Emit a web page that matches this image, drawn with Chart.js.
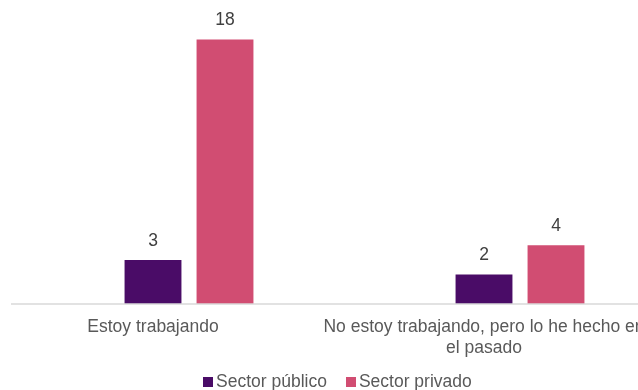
<!DOCTYPE html>
<html>
<head>
<meta charset="utf-8">
<script src="https://cdn.jsdelivr.net/npm/chart.js@4.4.0/dist/chart.umd.min.js"></script>
<style>
    html, body { margin: 0; padding: 0; background: #fff; overflow: hidden; }
    #wrap { position: relative; width: 638px; height: 390px; overflow: hidden; }
    #grafico { position: absolute; left: -30px; top: 0; }
    #leyenda {
        position: absolute; left: 203px; top: 371px;
        font: 17.5px "Liberation Sans", Arial, sans-serif; color: #595959;
        white-space: nowrap;
    }
    #leyenda .item { display: inline-block; margin-right: 19px; }
    #leyenda .caja { display: inline-block; width: 10px; height: 10px; margin-right: 3px; }
</style>
</head>
<body>
<div id="wrap">
    <canvas id="grafico" width="700" height="390"></canvas>
    <div id="leyenda"></div>
</div>
<script>
    // Categorías (en líneas) y valores de cada serie
    const categorias = [['Estoy trabajando'], ['No estoy trabajando, pero lo he hecho en', 'el pasado']];
    const seriesNombres = ['Sector público', 'Sector privado'];
    const sectorPublico = [3, 2];
    const sectorPrivado = [18, 4];
    const seriesColores = ['#4A0C67', '#D14D72'];
    const ejeMaximo = 20;

    const fuente = { family: '"Liberation Sans", Arial, sans-serif', size: 17.5 };

    // Etiquetas de valor encima de cada barra
    const etiquetasValor = {
        id: 'etiquetasValor',
        afterDatasetsDraw(chart) {
            const ctx = chart.ctx;
            ctx.save();
            ctx.font = fuente.size + 'px ' + fuente.family;
            ctx.fillStyle = '#404040';
            ctx.textAlign = 'center';
            ctx.textBaseline = 'middle';
            chart.data.datasets.forEach(function (ds, i) {
                if (!ds.label) return;
                chart.getDatasetMeta(i).data.forEach(function (bar, j) {
                    ctx.fillText(ds.data[j], bar.x, bar.y - 19);
                });
            });
            ctx.restore();
        }
    };

    // Línea base del eje de categorías
    const lineaBase = {
        id: 'lineaBase',
        afterDraw(chart) {
            const ctx = chart.ctx;
            const y = chart.scales.y.getPixelForValue(0);
            ctx.save();
            ctx.strokeStyle = '#D9D9D9';
            ctx.lineWidth = 1.5;
            ctx.beginPath();
            ctx.moveTo(41, y);
            ctx.lineTo(chart.width, y);
            ctx.stroke();
            ctx.restore();
        }
    };

    const grafico = new Chart(document.getElementById('grafico'), {
        type: 'bar',
        data: {
            labels: categorias,
            datasets: [
                { label: '', data: [null, null], backgroundColor: 'rgba(0,0,0,0)' },
                { label: seriesNombres[0], data: sectorPublico, backgroundColor: seriesColores[0] },
                { label: seriesNombres[1], data: sectorPrivado, backgroundColor: seriesColores[1] }
            ]
        },
        options: {
            responsive: false,
            animation: false,
            layout: { padding: { left: 17.5, right: 20.5, top: 10, bottom: 18 } },
            datasets: { bar: { categoryPercentage: 0.6526, barPercentage: 0.79 } },
            plugins: { legend: { display: false }, tooltip: { enabled: false } },
            scales: {
                x: {
                    grid: { display: false, drawTicks: false },
                    border: { display: false },
                    ticks: { color: '#595959', font: fuente, padding: 13, maxRotation: 0, autoSkip: false }
                },
                y: { display: false, min: 0, max: ejeMaximo }
            }
        },
        plugins: [etiquetasValor, lineaBase]
    });

    // Leyenda inferior
    var leyenda = document.getElementById('leyenda');
    seriesNombres.forEach(function (nombre, i) {
        var item = document.createElement('span');
        item.className = 'item';
        var caja = document.createElement('span');
        caja.className = 'caja';
        caja.style.background = seriesColores[i];
        item.appendChild(caja);
        item.appendChild(document.createTextNode(nombre));
        leyenda.appendChild(item);
    });
</script>
</body>
</html>
